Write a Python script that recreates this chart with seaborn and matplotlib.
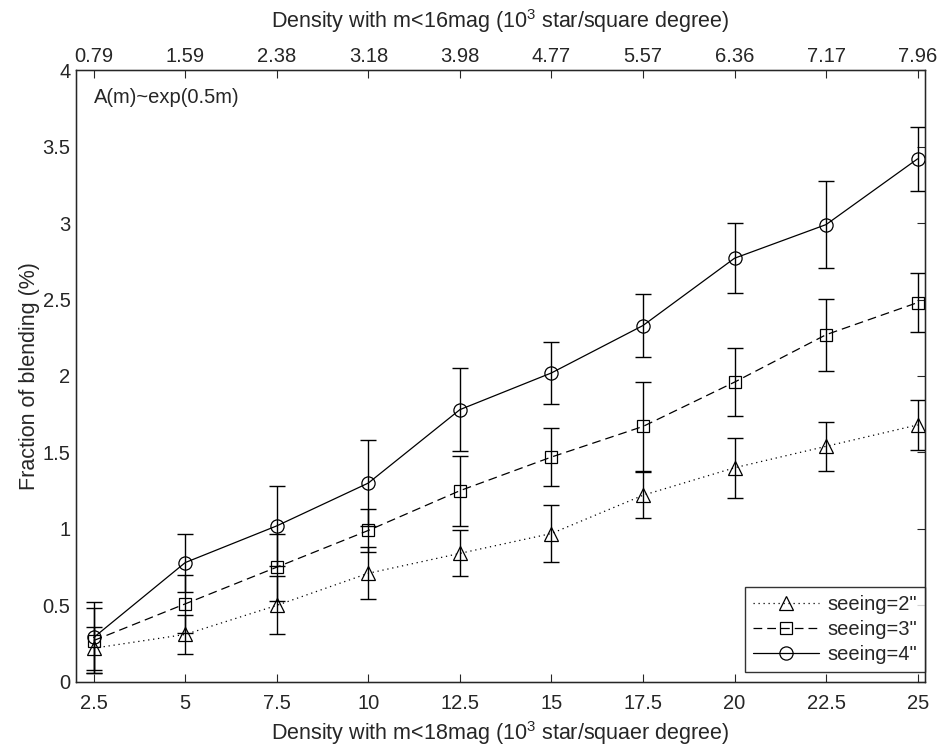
import numpy as np
import pandas as pd
import matplotlib
matplotlib.use("Agg")
import matplotlib.pyplot as plt
import seaborn as sns

density18 = [2.5, 5, 7.5, 10, 12.5, 15, 17.5, 20, 22.5, 25]
density16_labels = ["0.79", "1.59", "2.38", "3.18", "3.98", "4.77", "5.57", "6.36", "7.17", "7.96"]

seeing2 = [0.22, 0.31, 0.50, 0.71, 0.84, 0.97, 1.22, 1.40, 1.54, 1.68]
seeing2_err = [0.14, 0.13, 0.19, 0.17, 0.15, 0.185, 0.15, 0.195, 0.16, 0.165]
seeing3 = [0.27, 0.51, 0.75, 0.99, 1.25, 1.47, 1.67, 1.96, 2.27, 2.48]
seeing3_err = [0.21, 0.19, 0.22, 0.14, 0.23, 0.19, 0.29, 0.22, 0.235, 0.195]
seeing4 = [0.29, 0.78, 1.02, 1.30, 1.78, 2.02, 2.33, 2.77, 2.99, 3.42]
seeing4_err = [0.23, 0.19, 0.26, 0.28, 0.27, 0.205, 0.205, 0.23, 0.285, 0.21]

sns.set_style("white")
plt.rcParams['font.family'] = ['Liberation Sans', 'DejaVu Sans']
plt.rcParams['mathtext.fontset'] = 'custom'
plt.rcParams['mathtext.rm'] = 'Liberation Sans'
plt.rcParams['font.size'] = 14.5

fig = plt.figure(figsize=(9.4, 7.46), dpi=100)
ax = fig.add_axes([0.081, 0.086, 0.903, 0.82])

series = [
    ("seeing=2\"", seeing2, seeing2_err, "^", (0, (1, 3)), 10),
    ("seeing=3\"", seeing3, seeing3_err, "s", (0, (7, 4)), 8),
    ("seeing=4\"", seeing4, seeing4_err, "o", "-", 9.5),
]

for name, vals, errs, mk, ls, ms in series:
    df = pd.DataFrame({"density": density18, "fraction": vals})
    ax.errorbar(density18, vals, yerr=errs, fmt="none", ecolor="black",
                elinewidth=1, capsize=6, capthick=1, zorder=2)
    sns.lineplot(data=df, x="density", y="fraction", ax=ax, color="black",
                 linewidth=0.9, linestyle=ls, marker=mk, markersize=ms,
                 markerfacecolor="none", markeredgecolor="black", markeredgewidth=0.9,
                 label=name, zorder=3)

ax.set_xlim(2.02, 25.2)
ax.set_ylim(0, 4)
ax.set_xticks(density18)
ax.set_xticklabels([f"{v:g}" for v in density18])
ax.set_yticks(np.arange(0, 4.01, 0.5))
ax.set_yticklabels([f"{v:g}" for v in np.arange(0, 4.01, 0.5)])
ax.tick_params(direction="in", length=6, width=0.8, top=False, right=True,
               labelsize=14.5, pad=4)
ax.tick_params(axis="x", pad=9)
for sp in ax.spines.values():
    sp.set_color("black")
    sp.set_linewidth(1)

ax.set_xlabel("Density with m<18mag (10$^3$ star/squaer degree)", fontsize=15.5, labelpad=4)
ax.set_ylabel("Fraction of blending (%)", fontsize=15.5, labelpad=2)
ax.text(2.52, 3.82, "A(m)~exp(0.5m)", fontsize=14.5, va="center", ha="left")

ax2 = ax.twiny()
ax2.set_xlim(ax.get_xlim())
ax2.set_xticks(density18)
ax2.set_xticklabels(density16_labels)
ax2.tick_params(direction="in", length=6, width=0.8, labelsize=14.5, pad=3)
ax2.set_xlabel("Density with m<16mag (10$^3$ star/square degree)", fontsize=15.5, labelpad=14)

leg = ax.legend(loc="lower right", bbox_to_anchor=(1.0, 10 / 612), frameon=True,
                fancybox=False, edgecolor="black", handlelength=3.3, fontsize=14.5,
                borderaxespad=0, labelspacing=0.3, handletextpad=0.4,
                borderpad=0.4)
leg.get_frame().set_linewidth(1)

fig.savefig("out.png", dpi=100)
